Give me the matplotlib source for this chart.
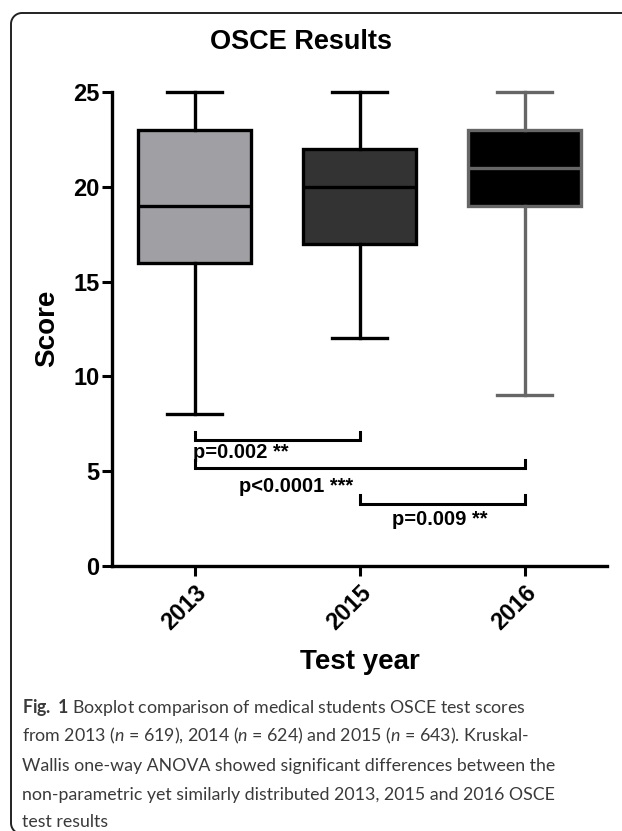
import matplotlib
matplotlib.use("Agg")
import matplotlib.pyplot as plt
import numpy as np
from matplotlib.lines import Line2D

# ---- data ----
years = ["2013", "2015", "2016"]
whisker_low = [8, 12, 9]
q1 = [16, 17, 19]
median = [19, 20, 21]
q3 = [23, 22, 23]
whisker_high = [25, 25, 25]
fill_colors = ["#a09fa4", "#333333", "#000000"]
edge_colors = ["#000000", "#000000", "#666666"]

comparisons = [(0, 1), (0, 2), (1, 2)]
bracket_y = [6.65, 5.17, 3.27]
bracket_tick = [0.42, 0.43, 0.47]
p_labels = ["p=0.002 **", "p<0.0001 ***", "p=0.009 **"]
p_label_x = [-0.01, 0.27, 1.20]
p_label_y = [5.96, 4.17, 2.43]

W, H = 622, 831
fig = plt.figure(figsize=(W / 100, H / 100), dpi=100)
plt.rcParams['font.family'] = ['Liberation Sans', 'DejaVu Sans']
plt.rcParams['mathtext.fontset'] = 'custom'
plt.rcParams['mathtext.rm'] = 'Lato'
plt.rcParams['mathtext.it'] = 'Lato:italic'
plt.rcParams['mathtext.bf'] = 'Lato:bold'

ax = fig.add_axes([112 / W, 1 - 566 / H, (607 - 112) / W, (566 - 92) / H])

stats = []
for i in range(len(years)):
    stats.append(dict(whislo=whisker_low[i], q1=q1[i], med=median[i],
                      q3=q3[i], whishi=whisker_high[i], label=years[i]))

for i, s in enumerate(stats):
    lw = 2.4
    b = ax.bxp([s], positions=[i], widths=0.69, patch_artist=True,
               showfliers=False,
               boxprops=dict(facecolor=fill_colors[i], edgecolor=edge_colors[i], linewidth=lw),
               medianprops=dict(color=edge_colors[i], linewidth=lw),
               whiskerprops=dict(color=edge_colors[i], linewidth=lw),
               capprops=dict(color=edge_colors[i], linewidth=lw),
               capwidths=0.33)
    for k in b:
        for art in b[k]:
            art.set_clip_on(False)

ax.set_xlim(-0.5, 2.5)
ax.set_ylim(0, 25)
ax.set_yticks([0, 5, 10, 15, 20, 25])
ax.set_xticks(range(len(years)))
ax.set_xticklabels(years, rotation=45, ha='right', rotation_mode='anchor',
                   fontsize=17, fontweight='bold')
for lab in ax.get_yticklabels():
    lab.set_fontsize(17)
    lab.set_fontweight('bold')
ax.tick_params(axis='both', width=2.2, length=7, color='black', pad=2)
ax.tick_params(axis='x', pad=4)
for sp in ['top', 'right']:
    ax.spines[sp].set_visible(False)
for sp in ['left', 'bottom']:
    ax.spines[sp].set_linewidth(2.4)

ax.set_xlabel("Test year", fontsize=20, fontweight='bold', labelpad=10)

# significance brackets
for (a, b2), y, t, lab, lx, ly in zip(comparisons, bracket_y, bracket_tick, p_labels, p_label_x, p_label_y):
    ax.plot([a, a, b2, b2], [y + t, y, y, y + t], color='black', lw=2.2,
            solid_joinstyle='miter', clip_on=False)
    ax.text(lx, ly, lab, fontsize=14.5, fontweight='bold', ha='left', va='center')

fig.text(301 / W, 1 - 42 / H, "OSCE Results", fontsize=19.5, fontweight='bold',
         ha='center', va='center')
fig.text(47 / W, 1 - 328 / H, "Score", fontsize=20, fontweight='bold',
         rotation=90, ha='center', va='center')

# frame: top line, rounded top-left corner, left line, rounded bottom-left corner
r = 11.0
left, top, bottom = 11.0, 13.0, 834.0
th1 = np.linspace(np.pi / 2, np.pi, 20)
th2 = np.linspace(np.pi, 3 * np.pi / 2, 20)
xs = [W + 60] + list(left + r + r * np.cos(th1)) + list(left + r + r * np.cos(th2)) + [W + 60]
ys = [top] + list(top + r - r * np.sin(th1)) + list(bottom - r - r * np.sin(th2)) + [bottom]
xs = np.array(xs) / W
ys = 1 - np.array(ys) / H
fig.lines.append(Line2D(xs, ys, transform=fig.transFigure, color='#222222',
                        linewidth=1.4, clip_on=False))

caption_color = '#3a3a3a'
cap_lines = [
    r"$\mathbf{Fig.\ 1}$ Boxplot comparison of medical students OSCE test scores",
    r"from 2013 ($\mathit{n}$ = 619), 2014 ($\mathit{n}$ = 624) and 2015 ($\mathit{n}$ = 643). Kruskal-",
    "Wallis one-way ANOVA showed significant differences between the",
    "non-parametric yet similarly distributed 2013, 2015 and 2016 OSCE",
    "test results",
]
cap_y = [707, 736, 766, 795, 822]
for line, y in zip(cap_lines, cap_y):
    fig.text(22 / W, 1 - y / H, line, fontsize=12.8, family='Lato',
             color=caption_color, ha='left', va='center')

fig.savefig("out.png", dpi=100)
